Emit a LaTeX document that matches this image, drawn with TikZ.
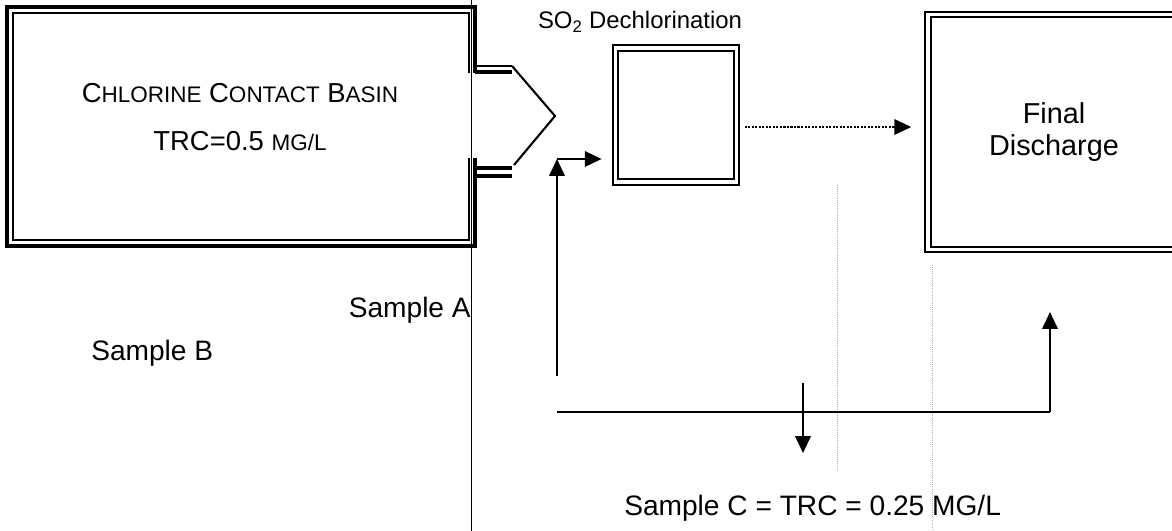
\documentclass[tikz,border=0pt]{standalone}
\usepackage{fontspec}
\setmainfont{Liberation Sans}
\usetikzlibrary{arrows.meta}
\newcommand{\minicap}[1]{{\fontsize{16}{34}\selectfont #1}}

\begin{document}
\begin{tikzpicture}[x=0.025cm, y=-0.025cm,
  wall/.style={line width=2.3pt},
  wallin/.style={line width=1.5pt},
  dblbox/.style={draw, double, double distance=2.2pt, line width=1.7pt, inner sep=0pt},
  flow/.style={-{Triangle[length=12pt, width=11pt]}, line width=1.5pt},
  lbl/.style={inner sep=0pt, font=\fontsize{20}{23}\selectfont}]

\useasboundingbox (0,0) rectangle (1172,531);
\clip (0,0) rectangle (1172,531);

% scan traces
\draw[line width=0.6pt] (471,0) -- (471,531);
\draw[gray!60, densely dotted, line width=0.5pt] (837,185) -- (837,470);
\draw[gray!60, densely dotted, line width=0.5pt] (932,265) -- (932,531);

% Chlorine contact basin
\node[lbl, align=center, font=\fontsize{19.5}{34}\selectfont] (basin) at (240,117) {C\minicap{HLORINE} C\minicap{ONTACT} B\minicap{ASIN}\\TRC=0.5 \minicap{MG/L}};
\draw[wall] (475,73) -- (475,7) -- (7,7) -- (7,246) -- (475,246) -- (475,158);
\draw[wallin] (469,73) -- (469,13) -- (13,13) -- (13,240) -- (469,240) -- (469,158);

% outlet pipes and weir
\draw[wallin] (475,66) -- (512,66);
\draw[wall] (475,72) -- (512,72);
\draw[wall] (475,168) -- (512,168);
\draw[wall] (475,176) -- (512,176);
\draw[line width=1.5pt] (512,66) -- (555,116) -- (514,165);

% SO2 dechlorination
\node[dblbox, minimum width=3.025cm, minimum height=3.35cm] (dechl) at (676,115) {};
\node[lbl, font=\fontsize{17}{20}\selectfont] (dechlname) at (640,22) {SO\textsubscript{2} Dechlorination};

% Final discharge
\node[dblbox, align=center, font=\fontsize{20.5}{23}\selectfont, minimum width=6.3cm, minimum height=5.875cm] (final) at (1054,132) {Final\\Discharge};

% flow into dechlorination
\coordinate (sampA) at (557,376);
\coordinate (bend) at (557,159);
\draw[flow] (sampA) -- (bend);
\draw[flow, shorten >=9pt] (bend) -- (dechl.west |- bend);

% flow to final discharge
\coordinate (outy) at (0,127);
\coordinate (out) at (dechl.east |- outy);
\draw[flow, densely dotted, line width=1.1pt, shorten <=5pt, shorten >=11pt] (out) -- (final.west |- out);

% sampling line
\coordinate (lowL) at (557,412);
\coordinate (lowR) at (1050,412);
\coordinate (finIn) at (1050,312);
\coordinate (tapTop) at (803,383);
\coordinate (tapBot) at (803,453);
\draw[line width=1.3pt] (lowL) -- (lowR);
\draw[flow] (lowR) -- (finIn);
\draw[flow] (tapTop) -- (tapBot);

% Sample labels
\node[lbl, anchor=east] (sampleA) at (471,310) {Sample A};
\node[lbl, anchor=west] (sampleB) at (91,353) {Sample B};
\node[lbl, anchor=west] (sampleC) at (624,508) {Sample C = TRC = 0.25 MG/L};

\end{tikzpicture}
\end{document}
